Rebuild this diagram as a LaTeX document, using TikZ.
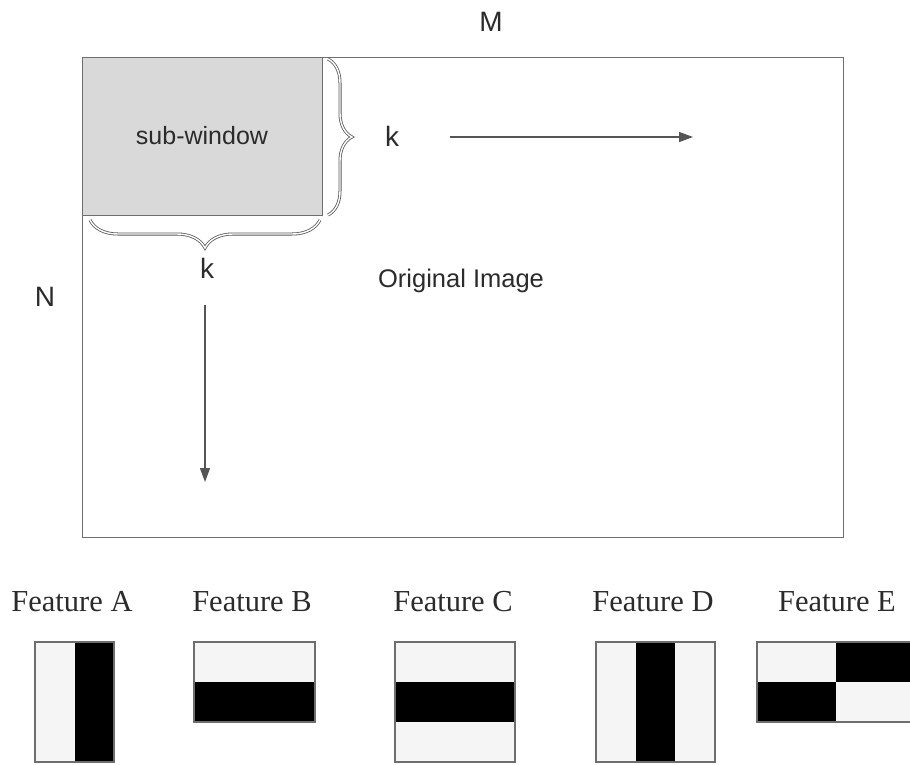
\documentclass[tikz,border=0pt]{standalone}
\usepackage{fontspec}
\setmainfont{Liberation Serif}
\setsansfont{Liberation Sans}
\usetikzlibrary{arrows.meta,decorations.pathreplacing,calc}
\definecolor{edgec}{HTML}{6E6E6E}
\definecolor{subfill}{HTML}{D9D9D9}
\definecolor{txtc}{HTML}{2B2B2B}
\definecolor{arrowc}{HTML}{555555}
\definecolor{bracec}{HTML}{5A5A5A}
\definecolor{lightc}{HTML}{F5F5F5}
\begin{document}
\begin{tikzpicture}[x=1pt,y=-1pt,
  box/.style={draw=edgec, line width=1pt, inner sep=0pt, outer sep=0pt, anchor=north west},
  sans/.style={font=\sffamily\fontsize{25.5}{27}\selectfont, text=txtc, inner sep=0pt},
  biglabel/.style={font=\sffamily\fontsize{28}{30}\selectfont, text=txtc, inner sep=0pt},
  featlabel/.style={font=\fontsize{30.5}{32}\selectfont, text=txtc, inner sep=0pt},
  feat/.style={draw=edgec, line width=1.2pt, fill=lightc, inner sep=0pt, outer sep=0pt, anchor=north west},
  arrowline/.style={draw=arrowc, line width=1.3pt, -{Triangle[length=14pt,width=10pt]}},
  bracestyle/.style={decorate, draw=bracec, double=white, double distance=1.4pt, line width=0.8pt}
]
\useasboundingbox (0,0) rectangle (910,764);
\fill[white] (0,0) rectangle (910,764);

% main image and sub-window
\node[box, minimum width=761pt, minimum height=480pt] (img) at (82,57) {};
\node[box, fill=subfill, minimum width=240pt, minimum height=158pt, sans, font=\sffamily\fontsize{25}{27}\selectfont] (sub) at (82,57) {sub-window};

% braces
\coordinate (br1) at ($(sub.north east)+(6,2)$);
\coordinate (br2) at ($(sub.south east)+(6,0)$);
\draw[bracestyle, decoration={brace, amplitude=24pt}] (br1) -- (br2);
\coordinate (bb1) at ($(sub.south east)+(-2,5)$);
\coordinate (bb2) at ($(sub.south west)+(8,5)$);
\draw[bracestyle, decoration={brace, amplitude=28pt}] (bb1) -- (bb2);

% labels
\node[biglabel] (M) at (491,22) {M};
\node[biglabel] (N) at (45,297) {N};
\node[biglabel] (kr) at (392,136) {k};
\node[biglabel] (kb) at (207,268) {k};
\node[sans] (orig) at (461,281) {Original Image};

% arrows
\coordinate (h1) at (450,137);
\coordinate (h2) at (693,137);
\draw[arrowline] (h1) -- (h2);
\coordinate (v1) at (205,305);
\coordinate (v2) at (205,482);
\draw[arrowline] (v1) -- (v2);

% features
\node[featlabel] (la) at (72,602) {Feature A};
\node[featlabel] (lb) at (252,602) {Feature B};
\node[featlabel] (lc) at (453,602) {Feature C};
\node[featlabel] (ld) at (653,602) {Feature D};
\node[featlabel] (le) at (837,602) {Feature E};

\node[feat, minimum width=79pt, minimum height=120pt,
  path picture={\fill[black] (path picture bounding box.north) rectangle (path picture bounding box.south east);}]
  (fa) at (35,642) {};
\node[feat, minimum width=121pt, minimum height=80pt,
  path picture={\fill[black] (path picture bounding box.west) rectangle (path picture bounding box.south east);}]
  (fb) at (194,642) {};
\node[feat, minimum width=120pt, minimum height=120pt,
  path picture={\fill[black] ($(path picture bounding box.north west)!0.3333!(path picture bounding box.south west)$) rectangle ($(path picture bounding box.north east)!0.6667!(path picture bounding box.south east)$);}]
  (fc) at (395,642) {};
\node[feat, minimum width=119pt, minimum height=120pt,
  path picture={\fill[black] ($(path picture bounding box.north west)!0.3333!(path picture bounding box.north east)$) rectangle ($(path picture bounding box.south west)!0.6667!(path picture bounding box.south east)$);}]
  (fd) at (596,642) {};
\node[feat, minimum width=158pt, minimum height=80pt,
  path picture={\fill[black] (path picture bounding box.west) rectangle (path picture bounding box.south);
                \fill[black] (path picture bounding box.north) rectangle (path picture bounding box.east);}]
  (fe) at (757,642) {};
\end{tikzpicture}
\end{document}
